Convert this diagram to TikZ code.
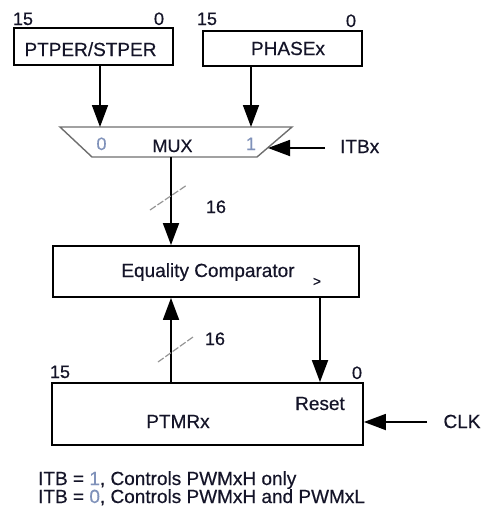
\documentclass[tikz,border=0pt]{standalone}
\usepackage{fontspec}
\setmainfont{Liberation Sans}[FakeBold=0.5]
\usetikzlibrary{arrows.meta}
\definecolor{txt}{RGB}{20,20,40}
\definecolor{dim}{RGB}{128,146,186}
\definecolor{slashc}{RGB}{150,150,150}
\definecolor{muxc}{RGB}{110,110,110}
\tikzset{
  reg/.style={draw=black, line width=1.8pt, rectangle, inner sep=0pt},
  lbl/.style={text=txt, inner sep=0pt, anchor=base, font=\fontsize{19}{22}\selectfont},
  num/.style={text=txt, inner sep=0pt, anchor=base, font=\fontsize{18}{21}\selectfont},
  dimnum/.style={text=dim, inner sep=0pt, anchor=base, font=\fontsize{18}{21}\selectfont},
  sig/.style={draw=black, line width=1.8pt, -{Triangle[length=22pt,width=16pt]}},
  buswidth/.style={draw=slashc, line width=1.2pt, dash pattern=on 7pt off 2pt}
}
\begin{document}
\begin{tikzpicture}[x=1pt, y=-1pt]
  \useasboundingbox (0,0) rectangle (483,512);

  % source registers
  \node[reg, minimum width=159pt, minimum height=37pt] (ptper) at (93.5,46.5) {};
  \node[lbl] (ptpertxt) at (90.5,56) {PTPER/STPER};
  \node[num] (ptper15) at (23,25) {15};
  \node[num] (ptper0) at (159,25) {0};

  \node[reg, minimum width=159pt, minimum height=35pt] (phase) at (282.5,48.5) {};
  \node[lbl] (phasetxt) at (288,55) {PHASEx};
  \node[num] (phase15) at (207,25) {15};
  \node[num] (phase0) at (351,27) {0};

  % multiplexer outline
  \coordinate (mtl) at (60,127);
  \coordinate (mtr) at (292,127);
  \coordinate (mbr) at (257,157);
  \coordinate (mbl) at (92,157);
  \draw[muxc, line width=1.4pt, line join=miter] (mtl) -- (mtr) -- (mbr) -- (mbl) -- cycle;
  \node[lbl, font=\fontsize{18}{21}\selectfont] (muxtxt) at (172.5,152) {MUX};
  \node[dimnum] (mux0) at (101.5,150) {0};
  \node[dimnum] (mux1) at (251,150) {1};
  \coordinate (in0) at (100,127);
  \coordinate (in1) at (251,127);
  \coordinate (sel) at (268,148);
  \coordinate (muxout) at (171,157);

  \draw[sig] (ptper.south -| in0) -- (in0);
  \draw[sig] (phase.south -| in1) -- (in1);

  \node[lbl, anchor=base west] (itb) at (340,153) {ITBx};
  \draw[sig] ([xshift=-15pt]itb.west |- sel) -- (sel);

  % comparator
  \node[reg, minimum width=306pt, minimum height=51pt] (cmp) at (206,271.5) {};
  \node[lbl] (cmptxt) at (208,277) {Equality Comparator};
  \node[text=txt, inner sep=0pt, font=\fontsize{14}{16}\selectfont] (gt) at (317,282) {>};

  \draw[sig] (muxout) -- (muxout |- cmp.north);
  \draw[buswidth] (150,210) -- (187,185);
  \node[num] (w1) at (216,213) {16};

  % period timer
  \node[reg, minimum width=311pt, minimum height=62pt] (tmr) at (207.5,414) {};
  \node[lbl] (tmrtxt) at (178,428) {PTMRx};
  \node[lbl] (reset) at (320,410) {Reset};
  \node[num] (tmr15) at (60,378) {15};
  \node[num] (tmr0) at (357,379) {0};

  \coordinate (fb) at (171,0);
  \coordinate (rs) at (320,0);
  \draw[sig] (tmr.north -| fb) -- (cmp.south -| fb);
  \draw[buswidth] (158,362) -- (193,337);
  \node[num] (w2) at (215,345) {16};
  \draw[sig] (cmp.south -| rs) -- (tmr.north -| rs);

  \node[lbl] (clk) at (462,428) {CLK};
  \coordinate (clkstart) at (427,422);
  \draw[sig] (clkstart) -- (clkstart -| tmr.east);

  % legend
  \node[lbl, anchor=base west] (leg1) at (38,485) {ITB = {\color{dim}1}, Controls PWMxH only};
  \node[lbl, anchor=base west] (leg2) at (38,503) {ITB = {\color{dim}0}, Controls PWMxH and PWMxL};
\end{tikzpicture}
\end{document}
